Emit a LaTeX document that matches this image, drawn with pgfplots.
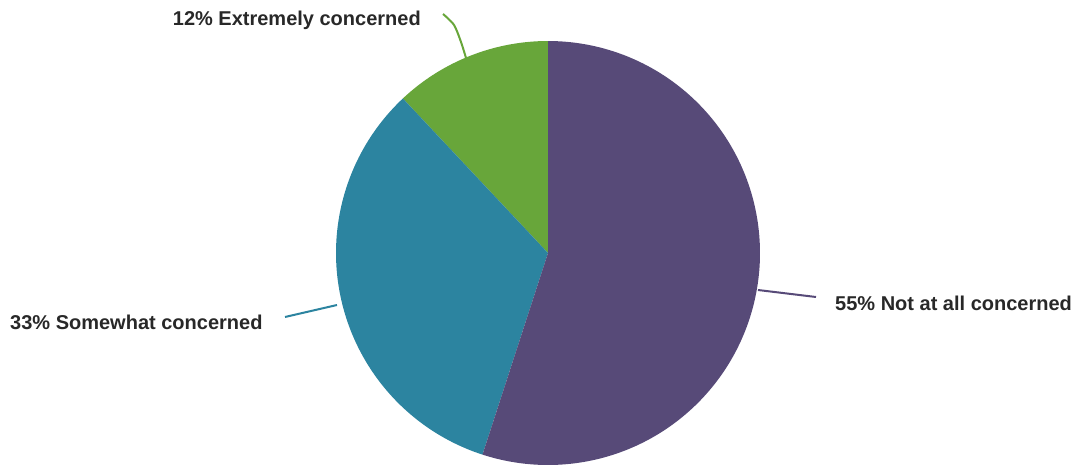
\documentclass[border=0pt]{standalone}
\usepackage{pgfplots}
\pgfplotsset{compat=1.18}
\usepackage{pgfplotstable}
\usepackage{fontspec}
\setmainfont{Liberation Sans}
\definecolor{cPurple}{RGB}{87,74,120}
\definecolor{cTeal}{RGB}{44,132,160}
\definecolor{cGreen}{RGB}{104,166,58}
\definecolor{cText}{RGB}{40,40,40}
\pgfplotstableread{
label value
Extremely 12
Somewhat 33
Notatall 55
}\piedata
\def\cx{548}\def\cy{222}\def\R{212}
\begin{document}%
\begin{tikzpicture}
\pgfplotstablegetelem{0}{value}\of\piedata \edef\vA{\pgfplotsretval}
\pgfplotstablegetelem{1}{value}\of\piedata \edef\vB{\pgfplotsretval}
\pgfplotstablegetelem{2}{value}\of\piedata \edef\vC{\pgfplotsretval}
\pgfmathsetmacro{\aA}{90}
\pgfmathsetmacro{\aB}{\aA+3.6*\vA}
\pgfmathsetmacro{\aC}{\aB+3.6*\vB}
\pgfmathsetmacro{\aD}{\aC+3.6*\vC}
\begin{axis}[
  width=1081pt, height=475pt, scale only axis,
  xmin=0, xmax=1081, ymin=0, ymax=475,
  hide axis, clip=false,
]
\addplot[fill=cGreen, draw=none, domain=\aA:\aB, samples=60, variable=\t]
  ({\cx+\R*cos(t)}, {\cy+\R*sin(t)}) -- (axis cs:\cx,\cy) -- cycle;
\addplot[fill=cTeal, draw=none, domain=\aB:\aC, samples=120, variable=\t]
  ({\cx+\R*cos(t)}, {\cy+\R*sin(t)}) -- (axis cs:\cx,\cy) -- cycle;
\addplot[fill=cPurple, draw=none, domain=\aC:\aD, samples=180, variable=\t]
  ({\cx+\R*cos(t)}, {\cy+\R*sin(t)}) -- (axis cs:\cx,\cy) -- cycle;
% leader lines
\addplot[cGreen, line width=2pt, smooth] coordinates {(443,461) (454,450) (461,433) (466,417)};
\addplot[cTeal, line width=2pt] coordinates {(285,158) (337,170)};
\addplot[cPurple, line width=2pt] coordinates {(758,185) (816,178)};
% labels
\node[anchor=east, text=cText, font=\fontsize{20}{22}\selectfont\bfseries, inner sep=0pt] at (axis cs:421,455) {12\% Extremely concerned};
\node[anchor=west, text=cText, font=\fontsize{20}{22}\selectfont\bfseries, inner sep=0pt] at (axis cs:10,153) {33\% Somewhat concerned};
\node[anchor=west, text=cText, font=\fontsize{20}{22}\selectfont\bfseries, inner sep=0pt] at (axis cs:835,172) {55\% Not at all concerned};
\end{axis}
\pgfresetboundingbox
\useasboundingbox (current axis.south west) rectangle (current axis.north east);
\end{tikzpicture}%
\end{document}
